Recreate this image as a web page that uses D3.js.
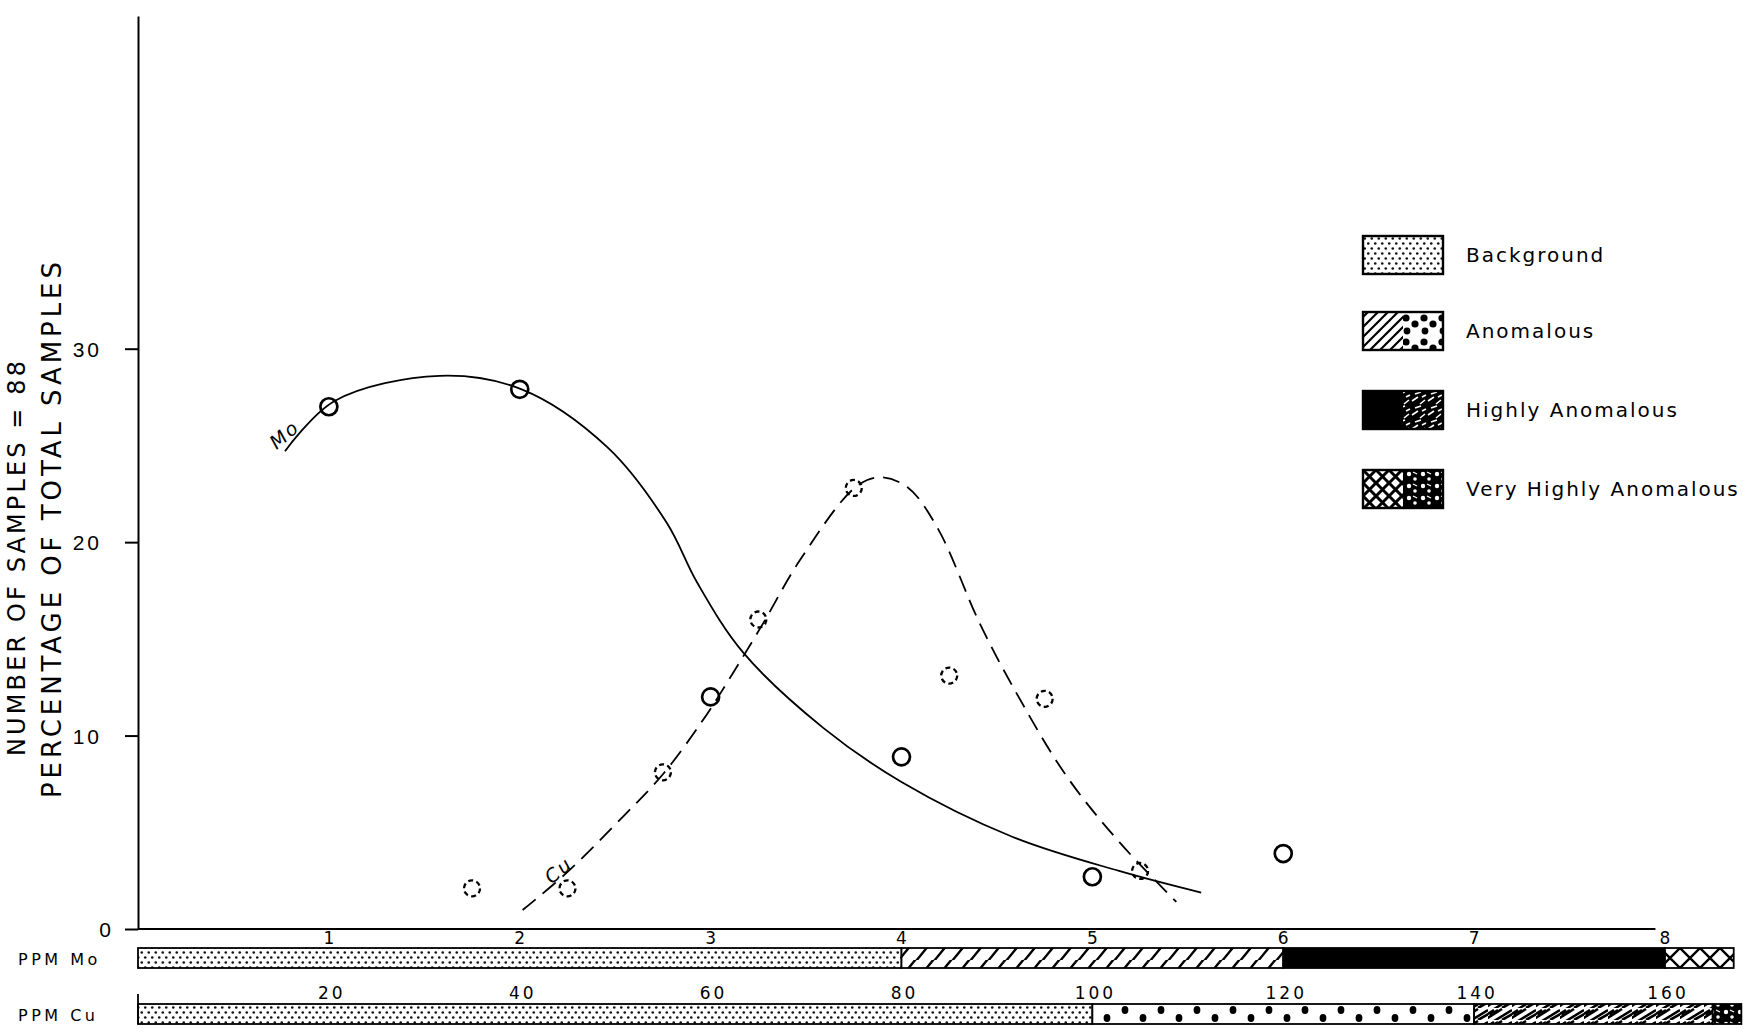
<!DOCTYPE html>
<html>
<head>
<meta charset="utf-8">
<script src="https://cdn.jsdelivr.net/npm/d3@7"></script>
<style>
  body { margin: 0; background: #fff; }
  svg { display: block; font-family: "DejaVu Sans", sans-serif; }
</style>
</head>
<body>
<div id="chart-container"></div>
<script>
// Points plotted (class mid-points in ppm, percentage of samples)
const moPPM = [1, 2, 3, 4, 5, 6];
const moPct = [27.0, 27.9, 12.0, 8.9, 2.7, 3.9];
const cuPPM = [35, 45, 55, 65, 75, 85, 95, 105];
const cuPct = [2.1, 2.1, 8.1, 16.0, 22.8, 13.1, 11.9, 3.0];

// Hand-drawn smoothed curves
const moCurvePPM = [0.77, 1.03, 1.58, 2.01, 2.46, 2.77, 2.93, 3.17, 3.59, 4.0, 4.58, 5.14, 5.57];
const moCurvePct = [24.7, 27.3, 28.6, 27.9, 24.9, 21.0, 17.9, 14.3, 10.4, 7.6, 4.77, 3.0, 1.88];
const cuCurvePPM = [40.3, 44.9, 50.8, 55, 59.2, 62.3, 65.5, 69.4, 75.2, 77.7, 80.6, 83.7, 88.2, 91.7, 97.3, 102.9, 108.8];
const cuCurvePct = [0.98, 2.9, 5.8, 8.0, 10.8, 13.2, 15.8, 19.1, 22.85, 23.35, 22.85, 20.8, 15.8, 12.5, 7.9, 4.45, 1.4];

// Axis ticks
const pctTicks = [0, 10, 20, 30];
const moTicks = [1, 2, 3, 4, 5, 6, 7, 8];
const cuTicks = [20, 40, 60, 80, 100, 120, 140, 160];

// Classes shown in the two bars
const classNames = ["Background", "Anomalous", "Highly Anomalous", "Very Highly Anomalous"];
const moBreaks = [0, 4, 6, 8, 8.36];
const cuBreaks = [0, 100, 140, 165, 168];

const width = 1743, height = 1029;

const svg = d3.select("#chart-container")
    .append("svg")
    .attr("width", width)
    .attr("height", height);

// Patterns
const defs = svg.append("defs");

function stipple(id) {
    const p = defs.append("pattern").attr("id", id)
        .attr("patternUnits", "userSpaceOnUse").attr("width", 7).attr("height", 10);
    p.append("rect").attr("width", 7).attr("height", 10).attr("fill", "#fff");
    p.append("circle").attr("cx", 1.75).attr("cy", 2.5).attr("r", 1.3).attr("fill", "#111");
    p.append("circle").attr("cx", 5.25).attr("cy", 7.5).attr("r", 1.3).attr("fill", "#111");
}
stipple("stipple");

function hatch(id) {
    const p = defs.append("pattern").attr("id", id)
        .attr("patternUnits", "userSpaceOnUse").attr("width", 18).attr("height", 20);
    p.append("rect").attr("width", 18).attr("height", 20).attr("fill", "#fff");
    p.append("path").attr("d", "M-2,21 L16,-1 M16,21 L34,-1 M-20,21 L-2,-1")
        .attr("stroke", "#000").attr("stroke-width", 2.4);
}
hatch("hatch");
function hatchLeg(id) {
    const p = defs.append("pattern").attr("id", id)
        .attr("patternUnits", "userSpaceOnUse").attr("width", 10).attr("height", 10);
    p.append("rect").attr("width", 10).attr("height", 10).attr("fill", "#fff");
    p.append("path").attr("d", "M-1,6 L6,-1 M-1,16 L16,-1 M9,16 L16,9")
        .attr("stroke", "#000").attr("stroke-width", 2.2);
}
hatchLeg("hatchLeg");

function bigDots(id, y0) {
    const p = defs.append("pattern").attr("id", id)
        .attr("patternUnits", "userSpaceOnUse").attr("width", 36).attr("height", 20)
        .attr("y", y0);
    p.append("rect").attr("width", 36).attr("height", 20).attr("fill", "#fff");
    p.append("ellipse").attr("cx", 9).attr("cy", 6).attr("rx", 3.4).attr("ry", 4).attr("fill", "#000");
    p.append("ellipse").attr("cx", 27).attr("cy", 14).attr("rx", 3.4).attr("ry", 4).attr("fill", "#000");
}
bigDots("bigdots", 1004);
function bigDotsLeg(id) {
    const p = defs.append("pattern").attr("id", id)
        .attr("patternUnits", "userSpaceOnUse").attr("width", 18).attr("height", 24)
        .attr("x", 3).attr("y", 1);
    p.append("rect").attr("width", 18).attr("height", 24).attr("fill", "#fff");
    p.append("circle").attr("cx", 4).attr("cy", 5).attr("r", 3.6).attr("fill", "#000");
    p.append("circle").attr("cx", 13).attr("cy", 11).attr("r", 3.6).attr("fill", "#000");
    p.append("circle").attr("cx", 5).attr("cy", 18).attr("r", 3.4).attr("fill", "#000");
}
bigDotsLeg("bigdotsLeg");

function scribble(id) {
    const p = defs.append("pattern").attr("id", id)
        .attr("patternUnits", "userSpaceOnUse").attr("width", 24).attr("height", 12);
    p.append("rect").attr("width", 24).attr("height", 12).attr("fill", "#fff");
    p.append("path")
        .attr("d", "M-2,11 L14,1 M6,13 L24,2 M14,12 L28,4 M-10,12 L6,2 M2,7 L10,2")
        .attr("stroke", "#000").attr("stroke-width", 2.6);
}
scribble("scribble");

function scribbleDark(id) {
    const p = defs.append("pattern").attr("id", id)
        .attr("patternUnits", "userSpaceOnUse").attr("width", 16).attr("height", 14);
    p.append("rect").attr("width", 16).attr("height", 14).attr("fill", "#000");
    p.append("path")
        .attr("d", "M1,10 L7,6 M9,13 L14,9 M4,3 L10,1 M11,6 L15,4")
        .attr("stroke", "#fff").attr("stroke-width", 1.6);
}
scribbleDark("scribbleDark");

function blotch(id) {
    const p = defs.append("pattern").attr("id", id)
        .attr("patternUnits", "userSpaceOnUse").attr("width", 14).attr("height", 12);
    p.append("rect").attr("width", 14).attr("height", 12).attr("fill", "#000");
    p.append("circle").attr("cx", 4).attr("cy", 4).attr("r", 2.2).attr("fill", "#fff");
    p.append("circle").attr("cx", 10).attr("cy", 9).attr("r", 1.8).attr("fill", "#fff");
    p.append("path").attr("d", "M8,2 L12,4").attr("stroke", "#fff").attr("stroke-width", 1.3);
}
blotch("blotch");

function crossHatch(id) {
    const p = defs.append("pattern").attr("id", id)
        .attr("patternUnits", "userSpaceOnUse").attr("width", 20).attr("height", 20)
        .attr("y", 948);
    p.append("rect").attr("width", 20).attr("height", 20).attr("fill", "#fff");
    p.append("path").attr("d", "M0,0 L20,20 M20,0 L0,20 M-10,10 L0,20 M10,-10 L30,10")
        .attr("stroke", "#000").attr("stroke-width", 2.4);
}
crossHatch("cross");
function crossHatchLeg(id) {
    const p = defs.append("pattern").attr("id", id)
        .attr("patternUnits", "userSpaceOnUse").attr("width", 13).attr("height", 13);
    p.append("rect").attr("width", 13).attr("height", 13).attr("fill", "#fff");
    p.append("path").attr("d", "M0,0 L13,13 M13,0 L0,13")
        .attr("stroke", "#000").attr("stroke-width", 3);
}
crossHatchLeg("crossLeg");

// Scales
const x = d3.scaleLinear().domain([0, 8]).range([138, 1665]);
const xCu = d3.scaleLinear().domain([0, 160]).range([138, 1665]);
const y = d3.scaleLinear().domain([0, 47.2]).range([929, 16]);

// Y axis
const yAxis = d3.axisLeft(y).tickValues(pctTicks).tickSize(13).tickSizeOuter(0).tickPadding(23);
const gy = svg.append("g").attr("transform", "translate(138,0)").call(yAxis);
gy.select(".domain").attr("stroke", "#000").attr("stroke-width", 2);
gy.selectAll(".tick line").attr("stroke", "#000").attr("stroke-width", 2);
gy.selectAll(".tick text")
    .attr("font-size", 21).attr("letter-spacing", 3).attr("fill", "#000")
    .attr("x", d => d === 0 ? -24 : -36)
    .attr("dy", "0.36em");

// X axis line
svg.append("line")
    .attr("x1", x(0)).attr("x2", x(7.95))
    .attr("y1", y(0)).attr("y2", y(0))
    .attr("stroke", "#000").attr("stroke-width", 2);

// Y titles
svg.append("text")
    .attr("transform", `translate(25,${(756 + 361) / 2}) rotate(-90)`)
    .attr("text-anchor", "middle")
    .attr("font-size", 24)
    .attr("textLength", 395).attr("lengthAdjust", "spacing")
    .text("NUMBER OF SAMPLES = 88");
svg.append("text")
    .attr("transform", `translate(61,${(798 + 262) / 2}) rotate(-90)`)
    .attr("text-anchor", "middle")
    .attr("font-size", 26)
    .attr("textLength", 536).attr("lengthAdjust", "spacing")
    .text("PERCENTAGE OF TOTAL SAMPLES");

// Curves
const line = d3.line().curve(d3.curveCatmullRom.alpha(0.5));
svg.append("path")
    .attr("d", line(moCurvePPM.map((v, i) => [x(v), y(moCurvePct[i])])))
    .attr("fill", "none").attr("stroke", "#000").attr("stroke-width", 1.8);
svg.append("path")
    .attr("d", line(cuCurvePPM.map((v, i) => [xCu(v), y(cuCurvePct[i])])))
    .attr("fill", "none").attr("stroke", "#000").attr("stroke-width", 1.8)
    .attr("stroke-dasharray", "17 9");

// Points
svg.selectAll(".mo-dot")
    .data(moPPM)
    .enter().append("circle")
    .attr("class", "mo-dot")
    .attr("cx", d => x(d))
    .attr("cy", (d, i) => y(moPct[i]))
    .attr("r", 8.5)
    .attr("fill", "none").attr("stroke", "#000").attr("stroke-width", 2.7);
svg.selectAll(".cu-dot")
    .data(cuPPM)
    .enter().append("circle")
    .attr("class", "cu-dot")
    .attr("cx", d => xCu(d))
    .attr("cy", (d, i) => y(cuPct[i]))
    .attr("r", 8)
    .attr("fill", "none").attr("stroke", "#000").attr("stroke-width", 2.3)
    .attr("stroke-dasharray", "5 3.4");

// Curve labels
svg.append("text")
    .attr("transform", `translate(${x(0.79)},${y(25.3)}) rotate(-40)`)
    .attr("font-size", 19).attr("font-style", "italic").attr("letter-spacing", 2)
    .attr("text-anchor", "middle")
    .text("Mo");
svg.append("text")
    .attr("transform", `translate(${xCu(44.5)},${y(2.77)}) rotate(-40)`)
    .attr("font-size", 19).attr("font-style", "italic").attr("letter-spacing", 2)
    .attr("text-anchor", "middle")
    .text("Cu");

// Tick labels of the two ppm scales
svg.selectAll(".mo-tick")
    .data(moTicks)
    .enter().append("text")
    .attr("class", "mo-tick")
    .attr("x", d => x(d)).attr("y", 944)
    .attr("text-anchor", "middle").attr("font-size", 17)
    .text(d => d);
svg.selectAll(".cu-tick")
    .data(cuTicks)
    .enter().append("text")
    .attr("class", "cu-tick")
    .attr("x", d => xCu(d) + 3).attr("y", 999)
    .attr("text-anchor", "middle").attr("font-size", 17).attr("letter-spacing", 3)
    .text(d => d);

svg.append("text").attr("x", 18).attr("y", 965)
    .attr("font-size", 16).attr("letter-spacing", 3.5).text("PPM  Mo");
svg.append("text").attr("x", 18).attr("y", 1021)
    .attr("font-size", 16).attr("letter-spacing", 3.5).text("PPM  Cu");

// Class bars
const moFills = ["url(#stipple)", "url(#hatch)", "#000", "url(#cross)"];
const cuFills = ["url(#stipple)", "url(#bigdots)", "url(#scribble)", "url(#blotch)"];

svg.selectAll(".mo-seg")
    .data(d3.range(classNames.length))
    .enter().append("rect")
    .attr("class", "mo-seg")
    .attr("x", i => x(moBreaks[i]))
    .attr("width", i => x(moBreaks[i + 1]) - x(moBreaks[i]))
    .attr("y", 948).attr("height", 20)
    .attr("fill", i => moFills[i])
    .attr("stroke", "#000").attr("stroke-width", 1.8);

svg.selectAll(".cu-seg")
    .data(d3.range(classNames.length))
    .enter().append("rect")
    .attr("class", "cu-seg")
    .attr("x", i => xCu(cuBreaks[i]))
    .attr("width", i => xCu(cuBreaks[i + 1]) - xCu(cuBreaks[i]))
    .attr("y", 1004).attr("height", 20)
    .attr("fill", i => cuFills[i])
    .attr("stroke", "#000").attr("stroke-width", 1.8);

svg.append("line")
    .attr("x1", xCu(0)).attr("x2", xCu(0))
    .attr("y1", 994).attr("y2", 1024)
    .attr("stroke", "#000").attr("stroke-width", 1.8);

// Legend
const legLeft = ["url(#stipple)", "url(#hatchLeg)", "#000", "url(#crossLeg)"];
const legRight = ["url(#stipple)", "url(#bigdotsLeg)", "url(#scribbleDark)", "url(#blotch)"];
const legY = [255, 331, 410, 489];

const leg = svg.selectAll(".leg")
    .data(classNames)
    .enter().append("g")
    .attr("class", "leg")
    .attr("transform", (d, i) => `translate(1363,${legY[i] - 19})`);
leg.append("rect").attr("width", 40).attr("height", 38)
    .attr("fill", (d, i) => legLeft[i]);
leg.append("rect").attr("x", 40).attr("width", 40).attr("height", 38)
    .attr("fill", (d, i) => legRight[i]);
leg.append("rect").attr("width", 80).attr("height", 38)
    .attr("fill", "none").attr("stroke", "#000").attr("stroke-width", 2.4);
leg.append("text")
    .attr("x", 103).attr("y", 19).attr("dy", "0.36em")
    .attr("font-size", 20).attr("letter-spacing", 2)
    .text(d => d);
</script>
</body>
</html>
